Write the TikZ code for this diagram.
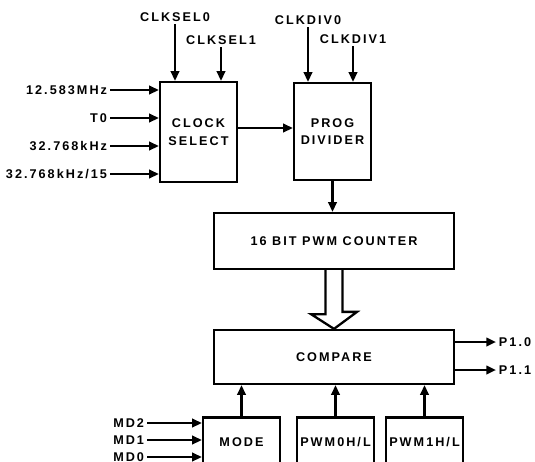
\documentclass[tikz,border=0pt]{standalone}
\usepackage{fontspec}
\usepackage{tikz}
\usetikzlibrary{arrows.meta, positioning, calc}
\newfontfamily\blockfont[LetterSpace=16]{Liberation Sans}

\begin{document}
\begin{tikzpicture}[
    x=0.02cm, y=-0.02cm,
    blk/.style={draw, line width=1.3pt, align=center, inner sep=0pt,
        font=\blockfont\bfseries\fontsize{7.2}{10}\selectfont},
    lbl/.style={inner sep=1.5pt, font=\blockfont\bfseries\fontsize{7.2}{8}\selectfont},
    sig/.style={-{Triangle[length=5.5pt, width=4.8pt]}, line width=1.3pt},
    bus/.style={line width=1.3pt, fill=white}
]
\useasboundingbox (0,0) rectangle (535,461);
\clip (0,0) rectangle (535,461);

% Blocks
\node[blk, minimum width=1.54cm, minimum height=2cm] (clksel) at (198.5,132) {CLOCK\\SELECT};
\node[blk, minimum width=1.54cm, minimum height=1.94cm] (divider) at (332.5,131.5) {PROG\\DIVIDER};
\node[blk, minimum width=4.8cm, minimum height=1.12cm] (counter) at (334,241) {16 BIT PWM COUNTER};
\node[blk, minimum width=4.8cm, minimum height=1.08cm] (cmp) at (334,357) {COMPARE};
\node[blk, minimum width=1.54cm, minimum height=0.98cm] (mode) at (241.5,442) {MODE};
\node[blk, minimum width=1.54cm, minimum height=0.98cm] (pwm0) at (335.5,442) {PWM0H/L};
\node[blk, minimum width=1.54cm, minimum height=0.98cm] (pwm1) at (424.5,442) {PWM1H/L};

% Clock sources
\foreach \y/\txt [count=\i] in {90/12.583MHz, 118/T0, 146/32.768kHz, 174/{32.768kHz/15}} {
    \node[lbl, anchor=east] (in\i) at (110,\y) {\txt};
    \draw[sig] (in\i.east) -- (in\i.east -| clksel.west);
}

% Select and divide inputs
\node[lbl] (sel0) at (175,17) {CLKSEL0};
\node[lbl] (sel1) at (221,40) {CLKSEL1};
\node[lbl] (div0) at (308,20) {CLKDIV0};
\node[lbl] (div1) at (353,39) {CLKDIV1};
\foreach \n/\b in {sel0/clksel, sel1/clksel, div0/divider, div1/divider} {
    \draw[sig] (\n.south) -- (\n.south |- \b.north);
}

% Clock path
\coordinate (clkout) at ($(clksel.east)+(0,-4)$);
\draw[sig] (clkout) -- (clkout -| divider.west);
\draw[sig] (divider.south) -- (divider.south |- counter.north);

% Counter bus into compare
\draw[bus] ($(counter.south)+(-8.5,0)$) -- ++(0,44) -- ++(-14.5,0) -- (cmp.north)
    -- ++(23,-17) -- ++(-14.5,0) -- ($(counter.south)+(8.5,0)$);

% Outputs
\node[lbl, anchor=west] (p10) at (496,342) {P1.0};
\node[lbl, anchor=west] (p11) at (496,370) {P1.1};
\draw[sig] (p10.west -| cmp.east) -- (p10.west);
\draw[sig] (p11.west -| cmp.east) -- (p11.west);

% Mode bits
\foreach \y/\txt in {423/MD2, 440/MD1, 457/MD0} {
    \node[lbl, anchor=east] (\txt) at (147,\y) {\txt};
    \draw[sig] (\txt.east) -- (\txt.east -| mode.west);
}

% Registers into compare
\foreach \b in {mode, pwm0, pwm1} {
    \draw[sig] (\b.north) -- (\b.north |- cmp.south);
}
\end{tikzpicture}
\end{document}
